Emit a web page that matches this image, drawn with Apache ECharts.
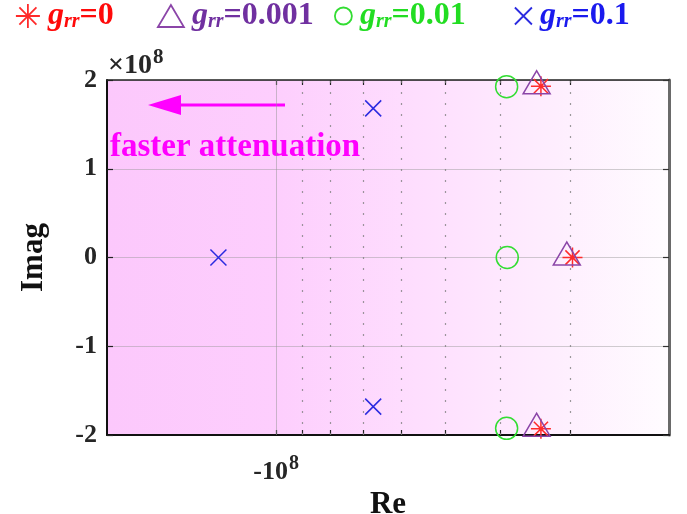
<!DOCTYPE html>
<html>
<head>
<meta charset="utf-8">
<script src="https://cdn.jsdelivr.net/npm/echarts@6/dist/echarts.min.js"></script>
<style>
  html, body { margin: 0; padding: 0; background: #ffffff; }
  #chart { width: 687px; height: 514px; }
</style>
</head>
<body>
<div id="chart"></div>
<script>
// Pole locations (Re, Imag) for each coupling gain g_rr
const reGrr0    = [-3.38e7, -2.97e7, -3.38e7];
const imGrr0    = [1.93e8, 0, -1.93e8];
const reGrr001  = [-3.44e7, -3.04e7, -3.44e7];
const imGrr001  = [1.93e8, 0, -1.93e8];
const reGrr01   = [-3.89e7, -3.88e7, -3.89e7];
const imGrr01   = [1.925e8, 0, -1.925e8];
const reGrr1    = [-6.72e7, -1.267e8, -6.72e7];
const imGrr1    = [1.68e8, 0, -1.68e8];

const seriesNames = ['grr0', 'grr001', 'grr01', 'grr1'];
const legendValues = ['0', '0.001', '0.01', '0.1'];

// Axis ranges and ticks
const reRange = [-2e8, -2e7];
const imRange = [-2e8, 2e8];
const imStep = 1e8;
const reMajorTicks = [-1e8];
const reMinorTicks = [-9e7, -8e7, -7e7, -6e7, -5e7, -4e7, -3e7];

const FONT = 'Liberation Serif';

// Real parts are negative; the log axis runs on their magnitude, reversed.
const toPoints = (re, im) => re.map((r, i) => [-r, im[i]]);

const asteriskPath = 'path://M10 0L10 20M0 10L20 10M2.9 2.9L17.1 17.1M2.9 17.1L17.1 2.9';
const crossPath = 'path://M0 0L20 20M0 20L20 0';

const styles = [
  { color: '#ff2b2b', text: '#ff0a0a', symbol: asteriskPath, size: 20, icon: [24, 24], offset: [0, 0] },
  { color: '#8b45a8', text: '#7030a0', symbol: 'triangle', size: [27, 23], icon: [26, 22], offset: [0, -4] },
  { color: '#33dd33', text: '#22dd22', symbol: 'circle', size: 22, icon: [17, 17], offset: [0, 0] },
  { color: '#2b2be0', text: '#1a1aee', symbol: crossPath, size: 16, icon: [17, 17], offset: [0, 0] }
];
const pointSets = [
  toPoints(reGrr0, imGrr0),
  toPoints(reGrr001, imGrr001),
  toPoints(reGrr01, imGrr01),
  toPoints(reGrr1, imGrr1)
];
const legendLefts = [15, 157, 334, 514];

const legendRich = {
  g: { fontFamily: FONT, fontWeight: 'bold', fontStyle: 'italic', fontSize: 32, lineHeight: 34 },
  s: { fontFamily: FONT, fontWeight: 'bold', fontStyle: 'italic', fontSize: 20, lineHeight: 34, padding: [12, 0, 0, 0] },
  v: { fontFamily: FONT, fontWeight: 'bold', fontSize: 32, lineHeight: 34 }
};

const legends = seriesNames.map((name, i) => ({
  data: [{ name: name, icon: styles[i].symbol }],
  left: legendLefts[i],
  top: 0,
  padding: 0,
  itemWidth: styles[i].icon[0],
  itemHeight: styles[i].icon[1],
  selectedMode: false,
  itemStyle: { color: 'rgba(0,0,0,0)', borderColor: styles[i].color, borderWidth: 1.8 },
  formatter: () => '{g|g}{s|rr}{v|=' + legendValues[i] + '}',
  textStyle: {
    color: styles[i].text,
    padding: [0, 0, 0, 3],
    rich: legendRich
  }
}));

const series = seriesNames.map((name, i) => ({
  name: name,
  type: 'scatter',
  data: pointSets[i],
  symbol: styles[i].symbol,
  symbolSize: styles[i].size,
  symbolOffset: styles[i].offset,
  itemStyle: { color: 'rgba(0,0,0,0)', borderColor: styles[i].color, borderWidth: 1.5, opacity: 1 },
  z: 5 + i
}));

// Grid decorations drawn along the real axis: solid line at the decade, dotted at the minor ticks
series.push({
  type: 'scatter',
  data: [],
  silent: true,
  markLine: {
    silent: true,
    symbol: ['none', 'none'],
    label: { show: false },
    animation: false,
    data: reMajorTicks.map(v => ({ xAxis: -v, lineStyle: { color: 'rgba(150,150,150,0.5)', width: 1, type: 'solid' } }))
      .concat(reMinorTicks.map(v => ({ xAxis: -v, lineStyle: { color: 'rgba(130,130,130,0.8)', width: 1.2, type: [2, 9] } })))
  },
  z: 2
});

const gridRect = { left: 107, right: 18, top: 80, bottom: 79 };
const magTicks = reMajorTicks.concat(reMinorTicks).map(v => -v);

const chart = echarts.init(document.getElementById('chart'), null, { renderer: 'canvas' });
chart.setOption({
  animation: false,
  backgroundColor: '#ffffff',
  legend: legends,
  grid: {
    left: gridRect.left, right: gridRect.right, top: gridRect.top, bottom: gridRect.bottom,
    containLabel: false,
    outerBoundsMode: 'none',
    show: true,
    borderWidth: 0,
    backgroundColor: new echarts.graphic.LinearGradient(0, 0, 1, 0, [
      { offset: 0, color: '#fcc8fc' },
      { offset: 0.3, color: '#fdcefd' },
      { offset: 0.55, color: '#fedefe' },
      { offset: 0.8, color: '#feeefe' },
      { offset: 1, color: '#fffcff' }
    ])
  },
  xAxis: [{
    type: 'log',
    logBase: 10,
    inverse: true,
    min: -reRange[1],
    max: -reRange[0],
    name: 'Re',
    nameLocation: 'middle',
    nameGap: 41,
    nameTextStyle: { fontFamily: FONT, fontWeight: 'bold', fontSize: 31, color: '#111' },
    axisLine: { show: true, onZero: false, lineStyle: { color: '#111', width: 2 } },
    axisTick: { show: true, inside: true, length: 5, customValues: magTicks, lineStyle: { color: '#222', width: 1.2 } },
    axisLabel: {
      customValues: reMajorTicks.map(v => -v),
      margin: 19,
      formatter: (v) => '-10{sup|' + Math.round(Math.log10(v)) + '}',
      fontFamily: FONT, fontWeight: 'bold', fontSize: 26, color: '#262626',
      rich: {
        sup: { fontFamily: FONT, fontWeight: 'bold', fontSize: 20, color: '#262626', padding: [0, 0, 16, 1] }
      }
    },
    splitLine: { show: false }
  }, {
    type: 'log',
    logBase: 10,
    inverse: true,
    position: 'top',
    min: -reRange[1],
    max: -reRange[0],
    axisLine: { show: true, onZero: false, lineStyle: { color: '#222', width: 1.5 } },
    axisTick: { show: true, inside: true, length: 5, customValues: magTicks, lineStyle: { color: '#222', width: 1.2 } },
    axisLabel: { show: false },
    splitLine: { show: false }
  }],
  yAxis: [{
    type: 'value',
    min: imRange[0],
    max: imRange[1],
    interval: imStep,
    name: 'Imag',
    nameLocation: 'middle',
    nameGap: 58,
    nameRotate: 90,
    nameTextStyle: { fontFamily: FONT, fontWeight: 'bold', fontSize: 31, color: '#111' },
    axisLine: { show: true, onZero: false, lineStyle: { color: '#111', width: 2 } },
    axisTick: { show: true, inside: true, length: 6, lineStyle: { color: '#222', width: 1.2 } },
    axisLabel: {
      margin: 10,
      formatter: (v) => String(Math.round(v / imStep)),
      fontFamily: FONT, fontWeight: 'bold', fontSize: 26, color: '#262626'
    },
    splitLine: { show: true, lineStyle: { color: 'rgba(150,150,150,0.45)', width: 1 } }
  }, {
    type: 'value',
    position: 'right',
    min: imRange[0],
    max: imRange[1],
    interval: imStep,
    axisLine: { show: true, onZero: false, lineStyle: { color: '#6a6a6a', width: 3 } },
    axisTick: { show: true, inside: true, length: 6, lineStyle: { color: '#333', width: 1.2 } },
    axisLabel: { show: false },
    splitLine: { show: false }
  }],
  graphic: [
    {
      type: 'text', left: 108, top: 47, silent: true,
      style: {
        text: '×10{sup|8}',
        fill: '#262626',
        font: 'bold 28px "Liberation Serif"',
        rich: { sup: { fontFamily: FONT, fontWeight: 'bold', fontSize: 21, fill: '#262626', padding: [0, 0, 16, 1] } }
      }
    },
    {
      type: 'text', left: 110, top: 131, silent: true,
      style: { text: 'faster attenuation', fill: '#ff00ff', font: 'bold 33px "Liberation Serif"' }
    },
    {
      type: 'line', silent: true,
      shape: { x1: 178, y1: 105, x2: 285, y2: 105 },
      style: { stroke: '#ff00ff', lineWidth: 3 }
    },
    {
      type: 'polygon', silent: true,
      shape: { points: [[148, 105], [181, 95], [181, 115]] },
      style: { fill: '#ff00ff' }
    }
  ],
  series: series
});
</script>
</body>
</html>
